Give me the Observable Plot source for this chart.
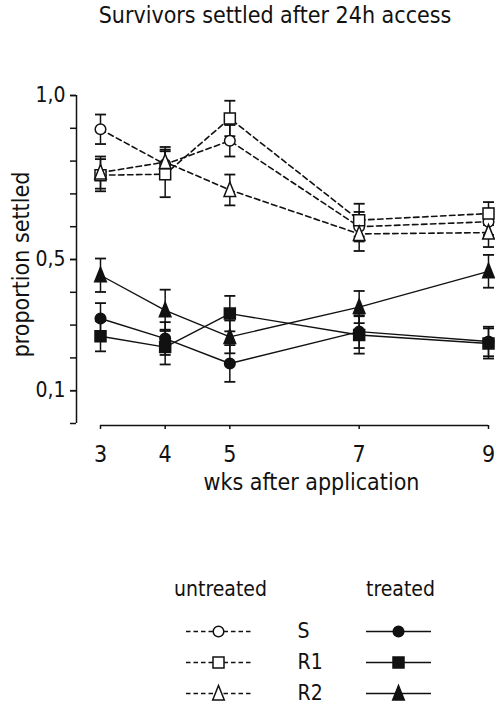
<!DOCTYPE html>
<html>
<head>
<meta charset="utf-8">
<script src="https://cdn.jsdelivr.net/npm/d3@7"></script>
<script src="https://cdn.jsdelivr.net/npm/@observablehq/plot@0.6"></script>
<style>
  body { margin: 0; background: #fff; width: 495px; }
  .title {
    height: 38px; line-height: 40px; padding-top: 2px; padding-left: 55px; text-align: center;
    font: 23px "DejaVu Sans Condensed", "DejaVu Sans", sans-serif; font-stretch: condensed;
    color: #111; white-space: nowrap;
  }
</style>
</head>
<body>
<div class="title">Survivors settled after 24h access</div>
<div id="chart"></div>
<div id="legend"></div>
<script>
// Sampling times (weeks after application)
const weeks = [3, 4, 5, 7, 9];

// Proportion settled, untreated groups
const untreatedS  = [0.897, 0.790, 0.862, 0.600, 0.615];
const untreatedR1 = [0.757, 0.760, 0.930, 0.620, 0.640];
const untreatedR2 = [0.765, 0.797, 0.712, 0.578, 0.582];
// Proportion settled, treated groups
const treatedS  = [0.320, 0.259, 0.183, 0.280, 0.250];
const treatedR1 = [0.266, 0.233, 0.335, 0.270, 0.244];
const treatedR2 = [0.452, 0.345, 0.264, 0.355, 0.464];

// Half-width of the error bars
const untreatedSErr  = [0.045, 0.045, 0.048, 0.045, 0.040];
const untreatedR1Err = [0.049, 0.070, 0.054, 0.050, 0.035];
const untreatedR2Err = [0.049, 0.046, 0.047, 0.052, 0.044];
const treatedSErr  = [0.047, 0.050, 0.056, 0.050, 0.045];
const treatedR1Err = [0.046, 0.053, 0.054, 0.057, 0.046];
const treatedR2Err = [0.051, 0.063, 0.050, 0.049, 0.050];

// Axis tick values and labels
const yTicks = [0, 0.1, 0.2, 0.3, 0.4, 0.5, 0.6, 0.7, 0.8, 0.9, 1.0];
const yLabelTicks = [0.1, 0.5, 1.0];
const strains = ["S", "R1", "R2"];
const groups = ["untreated", "treated"];

const ink = "#111";
const font = '"DejaVu Sans Condensed", "DejaVu Sans", sans-serif';

// Marker shapes drawn at fixed pixel sizes
const symbols = {
  circle: { draw(ctx) { ctx.moveTo(5.3, 0); ctx.arc(0, 0, 5.3, 0, 2 * Math.PI); ctx.closePath(); } },
  square: { draw(ctx) { ctx.moveTo(-5.5, -5.5); ctx.lineTo(5.5, -5.5); ctx.lineTo(5.5, 5.5); ctx.lineTo(-5.5, 5.5); ctx.closePath(); } },
  triangle: { draw(ctx) { ctx.moveTo(0, -8); ctx.lineTo(5.8, 6.5); ctx.lineTo(-5.8, 6.5); ctx.closePath(); } }
};
const cap = { draw(ctx) { ctx.moveTo(-5.5, 0); ctx.lineTo(5.5, 0); } };
const legendLine = { draw(ctx) { ctx.moveTo(-32.5, 0); ctx.lineTo(32.5, 0); } };

const series = [
  { group: "untreated", key: "S",  shape: "circle",   values: untreatedS,  err: untreatedSErr },
  { group: "untreated", key: "R1", shape: "square",   values: untreatedR1, err: untreatedR1Err },
  { group: "untreated", key: "R2", shape: "triangle", values: untreatedR2, err: untreatedR2Err },
  { group: "treated",   key: "S",  shape: "circle",   values: treatedS,    err: treatedSErr },
  { group: "treated",   key: "R1", shape: "square",   values: treatedR1,   err: treatedR1Err },
  { group: "treated",   key: "R2", shape: "triangle", values: treatedR2,   err: treatedR2Err }
];

const rows = series.flatMap(s => weeks.map((week, i) => ({
  week, value: s.values[i], err: s.err[i], group: s.group, key: s.key, shape: s.shape
})));

const lineStyle = {
  untreated: { strokeDasharray: "5.5,3.5", strokeWidth: 1.6 },
  treated: { strokeWidth: 1.4 }
};

const markerMarks = series.map(s => Plot.dot(rows.filter(d => d.group === s.group && d.key === s.key), {
  x: "week", y: "value", symbol: symbols[s.shape], r: 5,
  fill: s.group === "untreated" ? "white" : ink, stroke: ink, strokeWidth: 1.5
}));

const fmt = d => d.toFixed(1).replace(".", ",");

const chart = Plot.plot({
  width: 495,
  height: 470,
  marginTop: 55,
  marginBottom: 87,
  marginLeft: 100,
  marginRight: 7,
  style: { fontFamily: font, fontSize: "23px", background: "white", color: ink },
  x: { domain: [d3.min(weeks), d3.max(weeks)] },
  y: { domain: [0, 1] },
  marks: [
    // y axis: line, minor ticks, labelled ticks
    Plot.ruleX([d3.min(weeks)], { y1: 0, y2: 1, dx: -24, stroke: ink, strokeWidth: 1.5 }),
    Plot.axisY({ ticks: yTicks, tickSize: 6, tickFormat: () => "", dx: -24, label: null, strokeWidth: 1.5 }),
    Plot.axisY({ ticks: yLabelTicks, tickSize: 6, tickPadding: 5, tickFormat: fmt, dx: -24, label: null, fontSize: 21, strokeWidth: 1.5 }),
    // x axis
    Plot.ruleY([0], { x1: d3.min(weeks), x2: d3.max(weeks), dy: 2, stroke: ink, strokeWidth: 1.5 }),
    Plot.axisX({ ticks: weeks, tickSize: 4, tickFormat: () => "", dy: 2, label: null, strokeWidth: 1.5 }),
    Plot.axisX({ ticks: weeks, tickSize: 0, tickPadding: 22, tickFormat: d => String(d), label: null, fontSize: 23 }),
    Plot.text(["wks after application"], { text: d => d, frameAnchor: "bottom", textAnchor: "middle", dx: 17, dy: 66, lineAnchor: "bottom", fontSize: 23 }),
    Plot.text(["proportion settled"], { text: d => d, frameAnchor: "left", textAnchor: "middle", rotate: -90, dx: -79, dy: 5, lineAnchor: "middle", fontSize: 23 }),
    // error bars
    Plot.ruleX(rows, { x: "week", y1: d => d.value - d.err, y2: d => d.value + d.err, stroke: ink, strokeWidth: 1.5 }),
    Plot.dot(rows, { x: "week", y: d => d.value + d.err, symbol: cap, fill: "none", stroke: ink, strokeWidth: 1.8 }),
    Plot.dot(rows, { x: "week", y: d => d.value - d.err, symbol: cap, fill: "none", stroke: ink, strokeWidth: 1.8 }),
    // connecting lines
    ...groups.map(g => Plot.line(rows.filter(d => d.group === g), { x: "week", y: "value", z: "key", stroke: ink, ...lineStyle[g] })),
    // markers
    ...markerMarks
  ]
});
document.getElementById("chart").append(chart);

// Legend: untreated | strain | treated
const legendRows = strains.flatMap(key => groups.map(group => ({
  key, group, shape: series.find(s => s.key === key && s.group === group).shape
})));
const columns = ["untreated", "strain", "treated"];

const legend = Plot.plot({
  width: 495,
  height: 195,
  marginTop: 120,
  marginBottom: 12,
  marginLeft: 218,
  marginRight: 97,
  style: { fontFamily: font, fontSize: "21px", background: "white", color: ink },
  x: { type: "point", domain: columns, padding: 0, axis: null },
  y: { type: "point", domain: strains, padding: 0, axis: null },
  marks: [
    Plot.text(groups, { x: d => d, y: () => strains[0], text: d => d, dy: -42, dx: 2, fontSize: 21, lineAnchor: "middle" }),
    Plot.text(strains, { x: () => "strain", y: d => d, text: d => d, textAnchor: "start", dx: -11, fontSize: 21, lineAnchor: "middle" }),
    ...groups.map(g => Plot.dot(legendRows.filter(d => d.group === g), {
      x: "group", y: "key", symbol: legendLine, fill: "none", stroke: ink, ...lineStyle[g],
      strokeDasharray: g === "untreated" ? "4.5,3" : null
    })),
    ...legendRows.map(d => Plot.dot([d], {
      x: "group", y: "key", symbol: symbols[d.shape], r: 5,
      fill: d.group === "untreated" ? "white" : ink, stroke: ink, strokeWidth: 1.5
    }))
  ]
});
document.getElementById("legend").append(legend);
</script>
</body>
</html>
